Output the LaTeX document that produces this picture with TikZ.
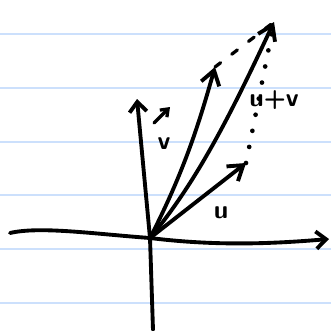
\documentclass[tikz,border=0pt]{standalone}
\usetikzlibrary{arrows.meta}
\definecolor{ruled}{RGB}{204,224,252}
\definecolor{ink}{RGB}{0,0,0}
\tikzset{
  rule/.style    = {draw=ruled, line width=2.3pt},
  pen/.style     = {draw=ink, line width=3.3pt, line cap=round, line join=round},
  vecpen/.style  = {pen, -{Straight Barb[length=4.2mm, width=5.6mm]}},
  axispen/.style = {pen, -{Straight Barb[length=3mm, width=5.2mm]}},
  % dotted and dashed guides for the parallelogram
  dotguide/.style  = {pen, line width=4pt, dash pattern=on 0pt off 14pt},
  dashguide/.style = {pen, line width=2.8pt, dash pattern=on 6pt off 12pt},
  hand/.style    = {font=\sffamily\bfseries\fontsize{22}{22}\selectfont,
                    text=ink, inner sep=0pt},
}

\begin{document}
\begin{tikzpicture}[x=0.3mm, y=-0.3mm]
    \useasboundingbox (0,0) rectangle (331,331);
    \fill[white] (0,0) rectangle (331,331);

    \foreach \y in {34,88,142,195,249,303}
      \draw[rule] (0,\y) -- (331,\y);

    \coordinate (O)  at (150,238);
    \coordinate (xl) at (10,233);
    \coordinate (xr) at (329,239);
    \coordinate (yb) at (153,330);
    \coordinate (yt) at (137,99);
    \coordinate (vt) at (215,67);
    \coordinate (ut) at (246,163);
    \coordinate (st) at (274,22);
    \coordinate (va) at (154,123);
    \coordinate (vb) at (170,107);

    \draw[axispen] (xl) .. controls (40,226) and (95,234) .. (O)
                        .. controls (215,246) and (270,244) .. (xr);
    \draw[axispen] (yb) -- (O) -- (yt);

    \draw[vecpen] (O) -- (ut);
    \draw[vecpen] (O) .. controls (185,170) and (200,120) .. (vt);
    \draw[vecpen] (O) .. controls (200,178) and (235,105) .. (st);

    \draw[dotguide] (ut) -- (st);
    \draw[dashguide] (vt) -- (st);

    \node[hand] (lu)  at (221,213) {u};
    \node[hand] (luv) at (274,100) {u+v};
    \node[hand] (lv)  at (164,144) {v};
    \draw[pen, line width=2.8pt, -{Straight Barb[length=2mm, width=3mm]}] (va) -- (vb);
  \end{tikzpicture}
\end{document}
